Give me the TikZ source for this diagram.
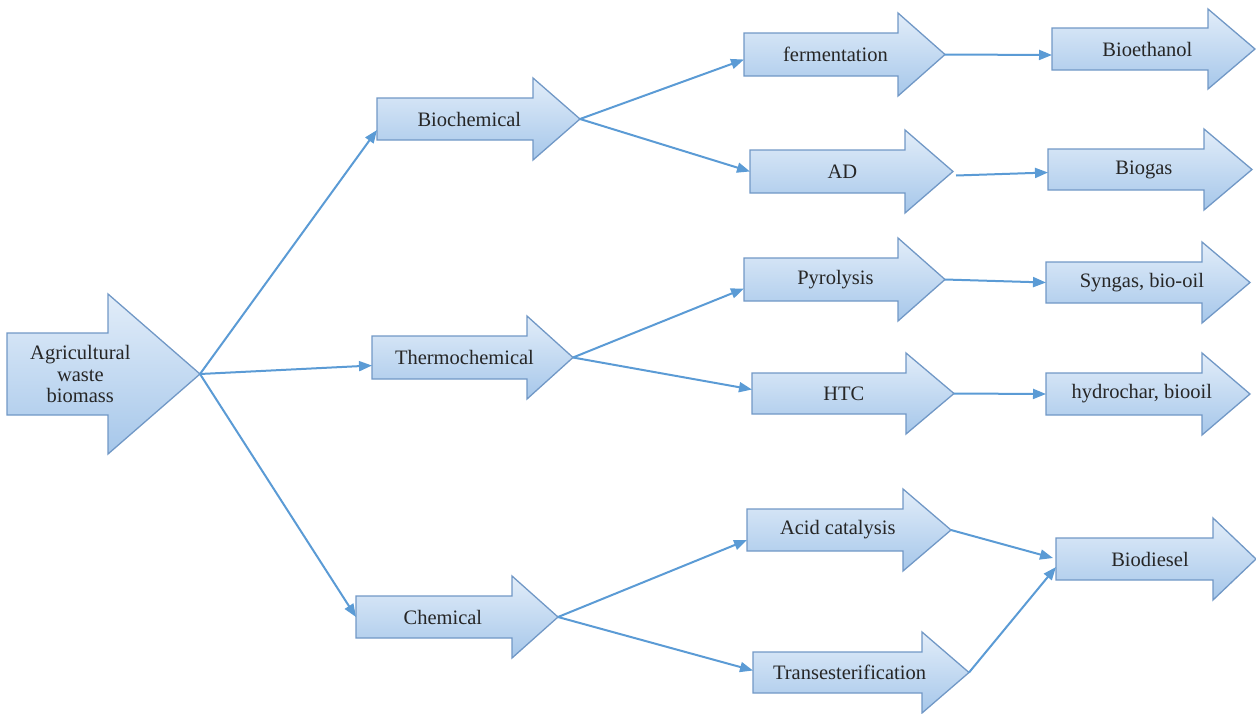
\documentclass[tikz,border=0pt]{standalone}
\usepackage{fontspec}
\IfFontExistsTF{LiberationSerif-Regular.ttf}
  {\setmainfont{LiberationSerif-Regular.ttf}[BoldFont=LiberationSerif-Bold.ttf,ItalicFont=LiberationSerif-Italic.ttf]}
  {\setmainfont{Liberation Serif}}
\usetikzlibrary{arrows.meta,calc}
\definecolor{arrtop}{RGB}{226,237,249}
\definecolor{arrbot}{RGB}{166,199,234}
\definecolor{arredge}{RGB}{113,152,198}
\definecolor{conncol}{RGB}{91,155,213}
\tikzset{
  arrowshape/.style={draw=arredge, line width=1.3pt, line join=miter, top color=arrtop, bottom color=arrbot},
  lbl/.style={inner sep=0pt, font=\rmfamily\fontsize{20.5}{21.5}\selectfont, text=black!85, align=center},
  conn/.style={draw=conncol, line width=2pt, -{Triangle[length=13pt,width=10pt]}}
}
% #1 name, #2 left x, #3 shaft top, #4 shaft bottom, #5 head start x, #6 head extension, #7 tip x, #8 text fraction, #9 text
\newcommand{\fatarrow}[9]{%
  \path[arrowshape] (#2,#3) -- (#5,#3) -- (#5,{#3-#6}) -- (#7,{(#3+#4)/2}) -- (#5,{#4+#6}) -- (#5,#4) -- (#2,#4) -- cycle;
  \coordinate (#1-w) at (#2,{(#3+#4)/2});
  \coordinate (#1-e) at (#7,{(#3+#4)/2});
  \node[lbl] (#1) at ({#2+#8*(#7-#2)},{(#3+#4)/2}) {#9};
}
\begin{document}
\begin{tikzpicture}[x=1pt,y=-1pt]
\useasboundingbox (0,0) rectangle (1256,713);
\fatarrow{main}{7}{333}{415}{108}{39}{200}{0.38}{Agricultural\\waste\\biomass}
\fatarrow{bio}{377}{98}{140}{533}{20}{580}{0.455}{Biochemical}
\fatarrow{ferm}{744}{33}{76}{898}{20}{945}{0.455}{fermentation}
\fatarrow{ad}{750}{150}{193}{905}{20}{953}{0.455}{AD}
\fatarrow{bioeth}{1052}{28}{70}{1208}{19}{1255}{0.47}{Bioethanol}
\fatarrow{biogas}{1048}{149}{190}{1204}{20}{1252}{0.47}{Biogas}
\fatarrow{thermo}{372}{336}{379}{527}{20}{573}{0.46}{Thermochemical}
\fatarrow{pyro}{744}{258}{301}{898}{20}{945}{0.455}{Pyrolysis}
\fatarrow{syngas}{1046}{262}{303}{1202}{20}{1250}{0.47}{Syngas, bio-oil}
\fatarrow{htc}{752}{373}{414}{906}{20}{954}{0.455}{HTC}
\fatarrow{hydro}{1046}{373}{415}{1202}{20}{1250}{0.47}{hydrochar, biooil}
\fatarrow{chem}{356}{596}{638}{512}{20}{558}{0.43}{Chemical}
\fatarrow{acid}{747}{509}{551}{903}{20}{951}{0.445}{Acid catalysis}
\fatarrow{trans}{753}{652}{693}{922}{20}{969}{0.447}{Transesterification}
\fatarrow{diesel}{1056}{538}{580}{1213}{20}{1256}{0.47}{Biodiesel}
% connectors
\draw[conn] (main-e) -- ($(bio-w)+(0,11)$);
\draw[conn] (main-e) -- ($(thermo-w)+(0,8)$);
\draw[conn] (main-e) -- (chem-w);
\draw[conn] (bio-e) -- ($(ferm-w)+(0,5)$);
\draw[conn] (bio-e) -- (ad-w);
\draw[conn] (ferm-e) -- ($(bioeth-w)+(0,6)$);
\draw[conn] ($(ad-e)+(3,4)$) -- ($(biogas-w)+(0,3)$);
\draw[conn] (thermo-e) -- ($(pyro-w)+(0,9)$);
\draw[conn] (thermo-e) -- ($(htc-w)+(0,-4)$);
\draw[conn] (pyro-e) -- (syngas-w);
\draw[conn] (htc-e) -- (hydro-w);
\draw[conn] (chem-e) -- ($(acid-w)+(0,10)$);
\draw[conn] (chem-e) -- ($(trans-w)+(0,-2)$);
\draw[conn] (acid-e) -- ($(diesel-w)+(-3,-1)$);
\draw[conn] (trans-e) -- ($(diesel-w)+(0,8)$);
\end{tikzpicture}
\end{document}
